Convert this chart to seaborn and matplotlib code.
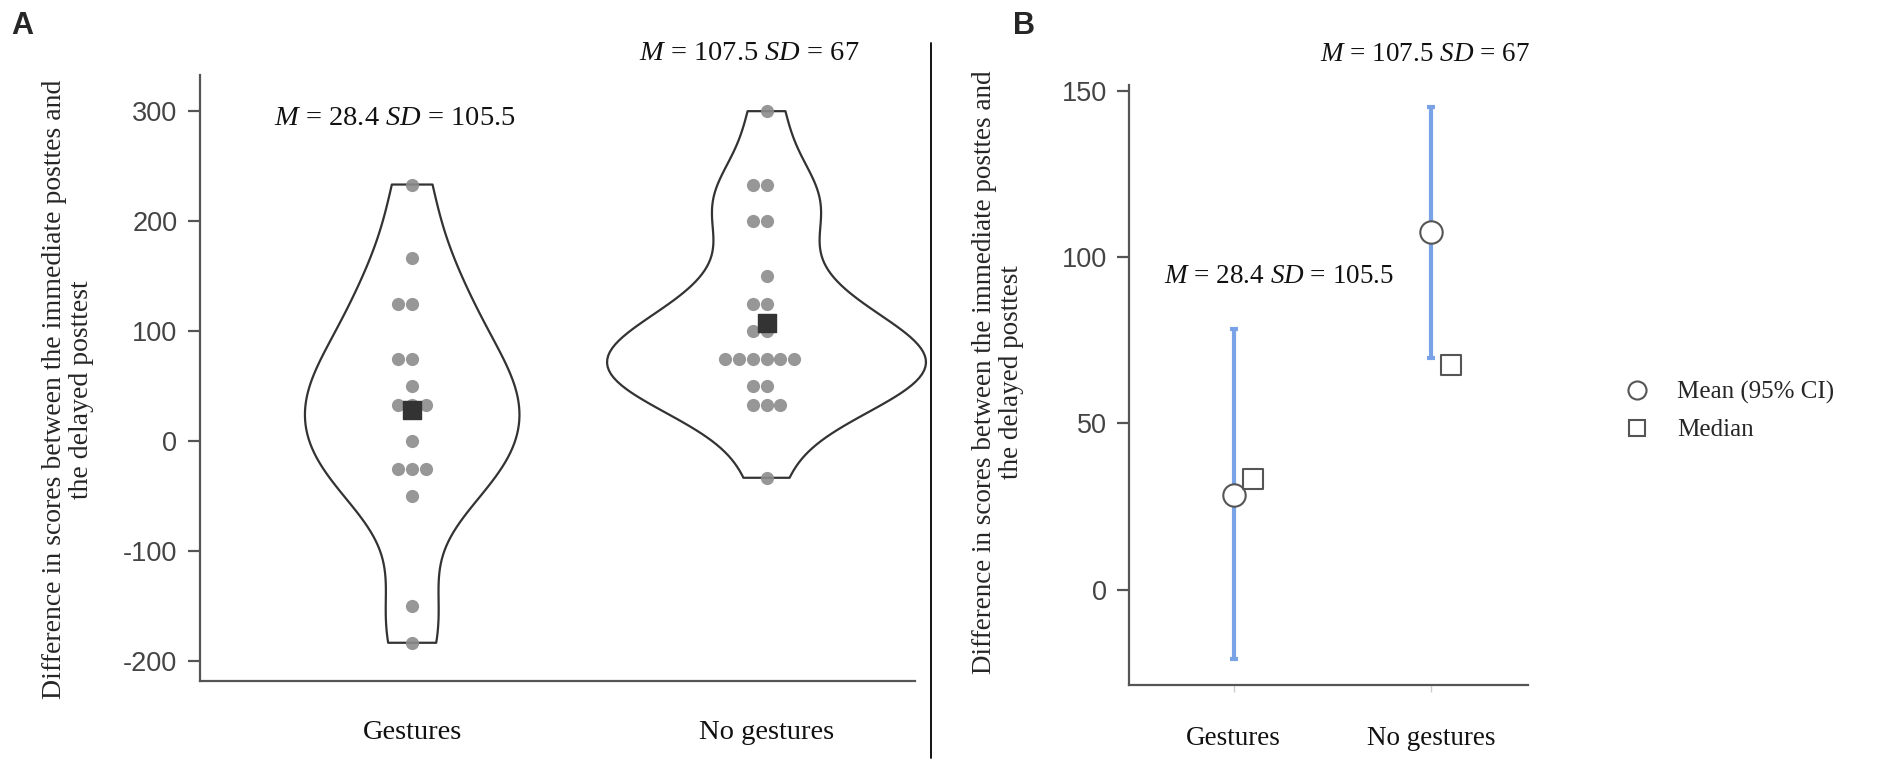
import numpy as np
import pandas as pd
import matplotlib
matplotlib.use('Agg')
import matplotlib.pyplot as plt
from matplotlib.lines import Line2D
import seaborn as sns

# values
groups = ['Gestures', 'No gestures']
gestures_scores = [233.3, 166.7, 125, 125, 75, 75, 50, 33.3, 33.3, 33.3,
                   0, -25, -25, -25, -50, -150, -183.3]
no_gestures_scores = [300, 233.3, 233.3, 200, 200, 150, 125, 125, 100, 100,
                      75, 75, 75, 75, 75, 75, 50, 50, 33.3, 33.3, 33.3, -33.3]
group_means = [28.4, 107.5]
group_sds = [105.5, 67]
ci_low = [-21.0, 69.5]
ci_high = [78.5, 145.0]
group_medians = [33.3, 67.5]

df = pd.DataFrame({
    'group': ['Gestures'] * len(gestures_scores) + ['No gestures'] * len(no_gestures_scores),
    'score': gestures_scores + no_gestures_scores,
})

sns.set_style('white')
plt.rcParams['font.family'] = ['Liberation Sans', 'DejaVu Sans']
plt.rcParams['axes.unicode_minus'] = False
plt.rcParams['mathtext.fontset'] = 'custom'
plt.rcParams['mathtext.rm'] = 'Liberation Serif'
plt.rcParams['mathtext.it'] = 'Liberation Serif:italic'

serif = ['Liberation Serif', 'DejaVu Serif']
axis_col = '#555555'
ylab = 'Difference in scores between the immediate posttes and\nthe delayed posttest'

fig = plt.figure(figsize=(19.01, 7.64), dpi=100)
axA = fig.add_axes([0.105, 0.108, 0.3765, 0.794])
axB = fig.add_axes([0.594, 0.103, 0.2096, 0.786])

# ---- panel A: violin + dots
sns.violinplot(data=df, x='group', y='score', order=groups, cut=0, inner=None,
               fill=False, color='#333333', linewidth=1.6, density_norm='area',
               bw_adjust=0.8, width=0.9, ax=axA)
for c in axA.collections:
    c.set_clip_on(False)
sns.swarmplot(data=df, x='group', y='score', order=groups, color='#8c8c8c',
              size=9.5, alpha=0.9, ax=axA)
axA.scatter(range(len(groups)), group_means, marker='s', s=150, color='#333333', zorder=5)

axA.set_xlim(-0.6, 1.42)
axA.set_ylim(-218.5, 333)
axA.set_yticks([-200, -100, 0, 100, 200, 300])
axA.set_xlabel('')
axA.set_ylabel('')
axA.set_xticks(range(len(groups)))
axA.set_xticklabels(groups, fontfamily=serif, fontsize=20.5, color='#111111')

for i in range(len(groups)):
    axA.text(i - 0.05, [293, 352][i],
             '$M$ = %s $SD$ = %s' % (group_means[i], group_sds[i]),
             ha='center', va='center', fontsize=20.5, color='#111111',
             fontfamily=serif, clip_on=False)

# ---- panel B: mean (95% CI) and median
xs = np.arange(len(groups))
axB.errorbar(xs, group_means,
             yerr=[np.array(group_means) - np.array(ci_low), np.array(ci_high) - np.array(group_means)],
             fmt='none', ecolor='#79a3e6', elinewidth=3, capsize=3, capthick=3, zorder=2)
axB.scatter(xs, group_means, marker='o', s=260, facecolor='white',
            edgecolor=axis_col, linewidth=1.5, zorder=4)
axB.scatter(xs + 0.1, group_medians, marker='s', s=190, facecolor='white',
            edgecolor=axis_col, linewidth=1.5, zorder=4)
axB.set_xlim(-0.53, 1.49)
axB.set_ylim(-28.8, 151.8)
axB.set_yticks([0, 50, 100, 150])
axB.set_xticks(xs)
axB.set_xticklabels(groups, fontfamily=serif, fontsize=19.5, color='#111111')

for i, (xx, yy) in enumerate([(0.23, 94), (0.97, 161)]):
    axB.text(xx, yy, '$M$ = %s $SD$ = %s' % (group_means[i], group_sds[i]),
             ha='center', va='center', fontsize=19.5, color='#111111',
             fontfamily=serif, clip_on=False)

for ax in (axA, axB):
    sns.despine(ax=ax)
    for s in ('left', 'bottom'):
        ax.spines[s].set_color(axis_col)
        ax.spines[s].set_linewidth(1.6)
    ax.tick_params(axis='y', left=True, length=9, width=1.6, color=axis_col,
                   labelsize=19.5, labelcolor='#444444', pad=7)
    ax.tick_params(axis='x', length=0, pad=28)

axB.tick_params(axis='x', bottom=True, length=5, width=1, color='#cccccc', pad=24)

# y labels, panel letters, divider
fig.text(0.036, 0.49, ylab, rotation=90, ha='center', va='center',
         multialignment='center', fontfamily=serif, fontsize=20, linespacing=1.1)
fig.text(0.525, 0.513, ylab, rotation=90, ha='center', va='center',
         multialignment='center', fontfamily=serif, fontsize=19.5, linespacing=1.1)
fig.text(0.006, 0.985, 'A', fontsize=22, fontweight='bold', va='top')
fig.text(0.533, 0.985, 'B', fontsize=22, fontweight='bold', va='top')
fig.add_artist(Line2D([0.49, 0.49], [0.008, 0.944], color='black', linewidth=1.3))

handles = [
    Line2D([], [], linestyle='none', marker='o', markersize=13,
           markerfacecolor='white', markeredgecolor=axis_col, markeredgewidth=1.5),
    Line2D([], [], linestyle='none', marker='s', markersize=11,
           markerfacecolor='white', markeredgecolor=axis_col, markeredgewidth=1.5),
]
fig.legend(handles, ['Mean (95% CI)', 'Median'], loc='center left',
           bbox_to_anchor=(0.848, 0.462), frameon=False, borderaxespad=0,
           borderpad=0, labelspacing=0.6, handletextpad=0.6,
           prop={'family': serif, 'size': 18})

fig.savefig('out.png', dpi=100)
